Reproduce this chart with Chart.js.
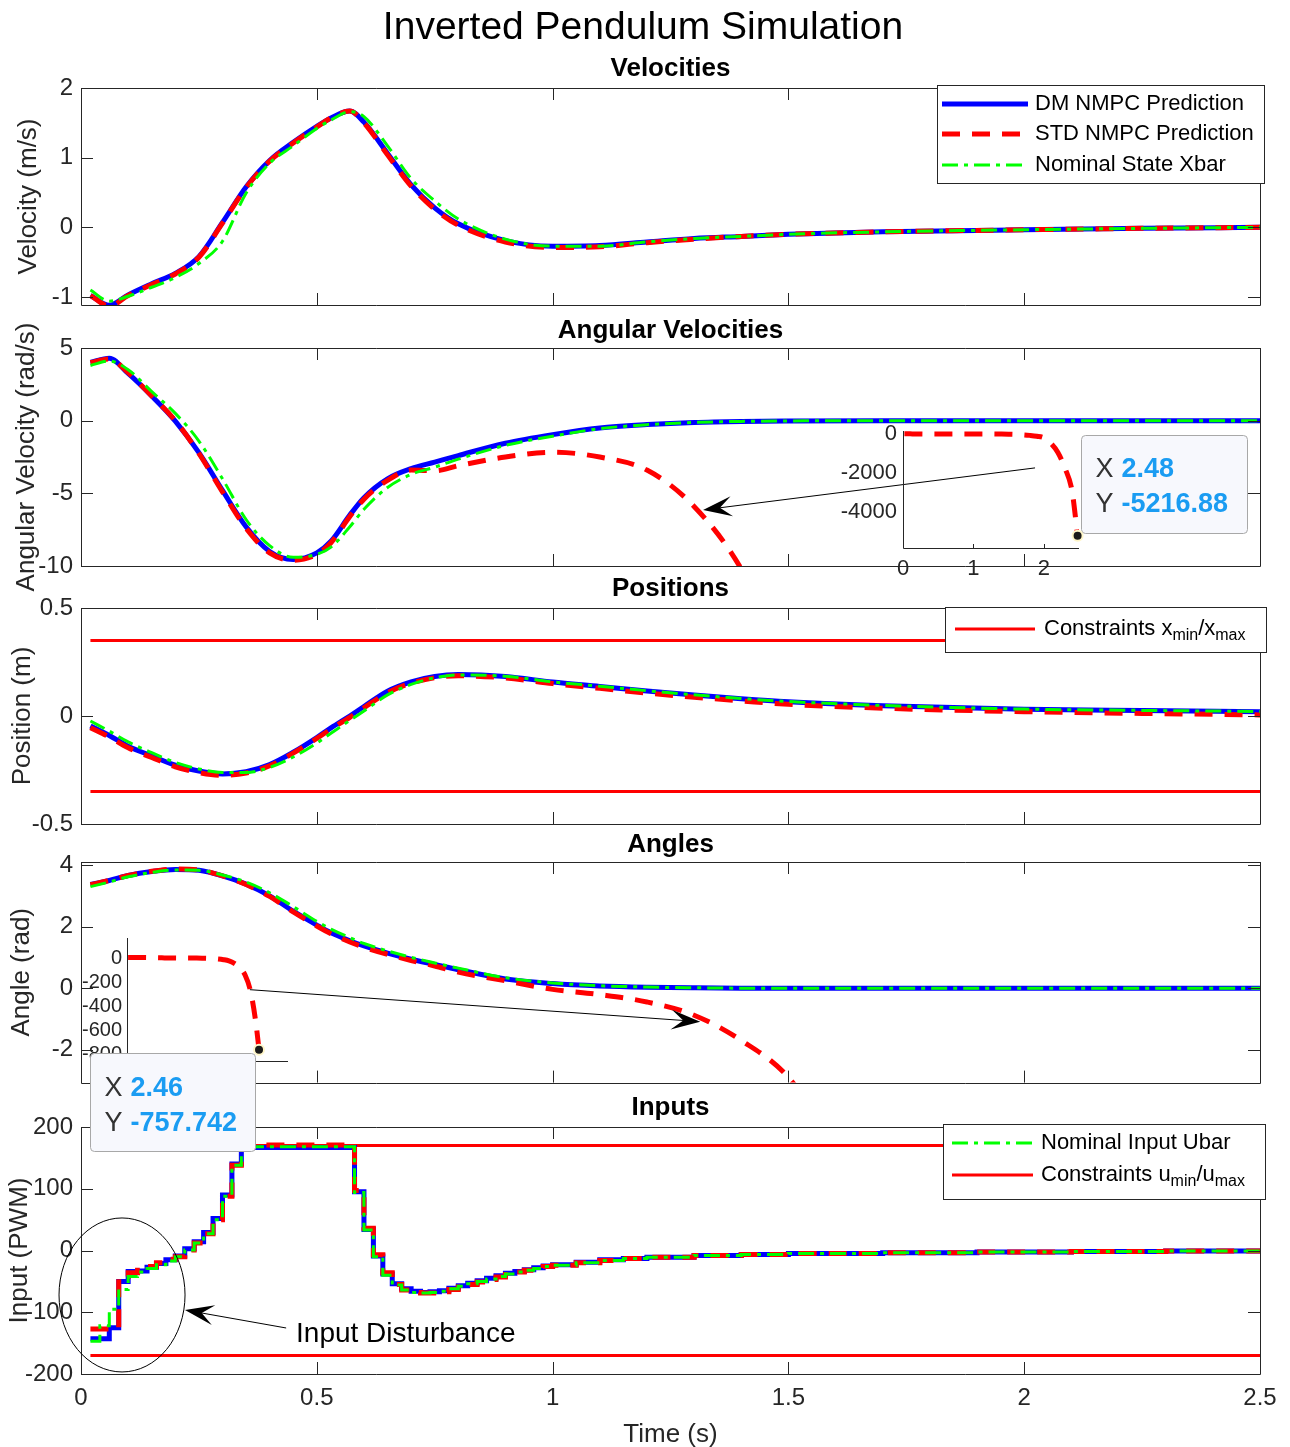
<!DOCTYPE html>
<html>
<head>
<meta charset="utf-8">
<title>Inverted Pendulum Simulation</title>
<script src="https://cdn.jsdelivr.net/npm/chart.js@4.4.1/dist/chart.umd.min.js"></script>
<style>
  html, body { margin: 0; padding: 0; background: #fff; }
  body { position: relative; width: 1290px; height: 1447px; overflow: hidden; }
  canvas { position: absolute; }
</style>
</head>
<body>
<script>
// ---- data ----
const T = [0.02, 0.06, 0.1, 0.15, 0.2, 0.25, 0.3, 0.35, 0.4, 0.45, 0.5, 0.53, 0.57, 0.6, 0.65, 0.7, 0.75, 0.8, 0.9, 1.0, 1.1, 1.2, 1.3, 1.4, 1.5, 1.7, 2.0, 2.25, 2.5];

const VEL_DM  = [-0.98, -1.12, -0.97, -0.81, -0.66, -0.42, 0.07, 0.58, 0.96, 1.22, 1.45, 1.57, 1.67, 1.51, 1.06, 0.61, 0.28, 0.05, -0.19, -0.27, -0.26, -0.21, -0.16, -0.13, -0.10, -0.065, -0.035, -0.015, 0.0];
const VEL_STD = [-0.98, -1.13, -0.98, -0.82, -0.67, -0.43, 0.06, 0.57, 0.95, 1.21, 1.44, 1.57, 1.67, 1.50, 1.04, 0.59, 0.26, 0.03, -0.21, -0.29, -0.28, -0.22, -0.17, -0.13, -0.10, -0.065, -0.035, -0.015, 0.0];
const VEL_NOM = [-0.90, -1.06, -0.99, -0.86, -0.72, -0.52, -0.20, 0.49, 0.92, 1.17, 1.42, 1.54, 1.66, 1.59, 1.17, 0.70, 0.38, 0.12, -0.17, -0.27, -0.27, -0.21, -0.16, -0.13, -0.10, -0.065, -0.035, -0.015, 0.0];

const OMEGA_DM  = [4.0, 4.3, 3.25, 1.7, -0.03, -2.2, -4.8, -7.3, -9.0, -9.55, -9.1, -8.3, -6.5, -5.3, -4.0, -3.3, -2.85, -2.4, -1.55, -0.96, -0.5, -0.27, -0.12, -0.05, -0.02, 0.0, 0.0, 0.0, 0.0];
const OMEGA_NOM = [3.8, 4.1, 3.5, 2.0, 0.5, -1.4, -4.0, -6.8, -8.6, -9.4, -9.2, -8.7, -7.3, -6.1, -4.6, -3.7, -3.2, -2.65, -1.7, -1.07, -0.55, -0.28, -0.12, -0.05, -0.02, 0.0, 0.0, 0.0, 0.0];
const T_OMEGA_STD = [0.02, 0.06, 0.1, 0.15, 0.2, 0.25, 0.3, 0.35, 0.4, 0.45, 0.5, 0.53, 0.57, 0.6, 0.65, 0.7, 0.75, 0.8, 0.9, 1.0, 1.1, 1.2, 1.3, 1.4, 1.5, 1.6, 1.7, 1.8, 1.9, 2.0, 2.1, 2.2, 2.3, 2.4, 2.48];
const OMEGA_STD = [4.0, 4.25, 3.3, 1.7, 0.0, -2.25, -4.9, -7.4, -9.1, -9.6, -9.2, -8.4, -6.6, -5.4, -4.1, -3.4, -3.45, -3.1, -2.5, -2.17, -2.5, -3.4, -5.9, -10.2, -17, -28, -45, -75, -120, -200, -480, -950, -1750, -2900, -5216.88];

const POS_DM  = [-0.046, -0.09, -0.14, -0.185, -0.228, -0.255, -0.268, -0.258, -0.225, -0.168, -0.10, -0.055, 0.0, 0.044, 0.115, 0.158, 0.183, 0.192, 0.183, 0.157, 0.137, 0.116, 0.097, 0.08, 0.066, 0.048, 0.031, 0.025, 0.02];
const POS_STD = [-0.054, -0.097, -0.147, -0.192, -0.235, -0.262, -0.275, -0.264, -0.23, -0.172, -0.104, -0.06, -0.006, 0.038, 0.108, 0.152, 0.177, 0.186, 0.176, 0.15, 0.128, 0.106, 0.087, 0.07, 0.054, 0.036, 0.02, 0.012, 0.005];
const POS_NOM = [-0.023, -0.07, -0.12, -0.17, -0.215, -0.245, -0.262, -0.262, -0.238, -0.19, -0.125, -0.08, -0.02, 0.023, 0.098, 0.146, 0.177, 0.19, 0.184, 0.158, 0.138, 0.117, 0.098, 0.081, 0.067, 0.049, 0.032, 0.026, 0.021];

const ANG_DM  = [3.37, 3.5, 3.66, 3.79, 3.86, 3.83, 3.65, 3.38, 3.0, 2.5, 2.05, 1.8, 1.54, 1.37, 1.14, 0.94, 0.77, 0.6, 0.3, 0.15, 0.07, 0.03, 0.01, 0.0, 0.0, 0.0, 0.0, 0.0, 0.0];
const ANG_NOM = [3.3, 3.45, 3.62, 3.76, 3.84, 3.83, 3.68, 3.45, 3.1, 2.65, 2.17, 1.92, 1.64, 1.45, 1.21, 1.0, 0.82, 0.65, 0.34, 0.17, 0.08, 0.035, 0.012, 0.0, 0.0, 0.0, 0.0, 0.0, 0.0];
const T_ANG_STD = [0.02, 0.06, 0.1, 0.15, 0.2, 0.25, 0.3, 0.35, 0.4, 0.45, 0.5, 0.53, 0.57, 0.6, 0.65, 0.7, 0.75, 0.8, 0.9, 1.0, 1.1, 1.2, 1.3, 1.4, 1.5, 1.6, 1.7, 1.8, 1.9, 2.0, 2.1, 2.2, 2.3, 2.4, 2.46];
const ANG_STD = [3.36, 3.5, 3.66, 3.8, 3.87, 3.84, 3.65, 3.37, 2.98, 2.48, 2.02, 1.77, 1.5, 1.33, 1.1, 0.9, 0.72, 0.52, 0.24, -0.04, -0.21, -0.45, -0.88, -1.7, -2.9, -5.2, -8, -14, -24, -45, -80, -140, -270, -530, -757.742];

const T_U = [0.02, 0.04, 0.06, 0.08, 0.10, 0.12, 0.14, 0.16, 0.18, 0.20, 0.22, 0.24, 0.26, 0.28, 0.30, 0.32, 0.34, 0.40, 0.46, 0.52, 0.58, 0.60, 0.62, 0.64, 0.66, 0.68, 0.70, 0.72, 0.74, 0.76, 0.78, 0.80, 0.82, 0.84, 0.86, 0.88, 0.90, 0.92, 0.94, 0.96, 0.98, 1.00, 1.05, 1.10, 1.15, 1.20, 1.30, 1.40, 1.50, 1.70, 1.90, 2.10, 2.30, 2.50];
const U_DM  = [-143, -143, -125, -50, -34, -33, -27, -21, -15, -9, 3, 14, 29, 52, 90, 140, 167, 167, 167, 167, 95, 34, -9, -38, -54, -62, -66, -68, -67, -65, -61, -57, -53, -49, -45, -41, -37, -34, -31, -28, -25, -23, -19, -15, -13, -11, -8, -6.5, -5, -3.5, -2.5, -1.5, -1, -0.5];
const U_STD = [-127, -127, -127, -42, -36, -32, -26, -20, -14, -10, 1, 12, 27, 50, 88, 138, 171, 171, 171, 171, 97, 36, -7, -36, -55, -64, -68, -69, -69, -67, -63, -59, -55, -51, -47, -43, -39, -35, -32, -29, -26, -24, -20, -16, -13, -11, -8, -6.5, -5, -3.5, -2.5, -1.5, -1, -0.5];
const U_NOM = [-147, -122, -95, -63, -42, -35, -29, -23, -17, -10, 1, 12, 27, 50, 88, 138, 168, 168, 168, 168, 94, 33, -10, -40, -56, -64, -68, -69, -68, -66, -62, -58, -54, -50, -46, -42, -38, -35, -32, -29, -26, -24, -20, -16, -13, -11, -8, -6.5, -5, -3.5, -2.5, -1.5, -1, -0.5];

const T_LIMIT = [0.02, 2.5];
const X_MAX = [0.35, 0.35];
const X_MIN = [-0.35, -0.35];
const U_MAX = [170, 170];
const U_MIN = [-170, -170];

const X_TICKS = [0, 0.5, 1, 1.5, 2, 2.5];
const VEL_TICKS = [-1, 0, 1, 2];
const OMEGA_TICKS = [-10, -5, 0, 5];
const POS_TICKS = [-0.5, 0, 0.5];
const ANG_TICKS = [-2, 0, 2, 4];
const U_TICKS = [-200, -100, 0, 100, 200];
const ZOOM1_X_TICKS = [0, 1, 2];
const ZOOM1_Y_TICKS = [-4000, -2000, 0];
const ZOOM2_Y_TICKS = [-800, -600, -400, -200, 0];

// ---- styling ----
const FONT = "'Liberation Sans', Arial, Helvetica, sans-serif";
const INK = '#262626';
const BLUE = '#0000ff', RED = '#ff0000', GREEN = '#00ff00';
const TITLE_SIZE = 26;
Chart.defaults.font.family = FONT;
Chart.defaults.color = INK;

const STYLE = {
  dm:  { borderColor: BLUE, borderWidth: 5 },
  std: { borderColor: RED, borderWidth: 5, borderDash: [18, 12] },
  nom: { borderColor: GREEN, borderWidth: 3, borderDash: [16, 6, 4, 6] },
  lim: { borderColor: RED, borderWidth: 3 }
};

function pts(ts, vs) {
  return ts.map((t, i) => ({ x: t, y: vs[i] }));
}

function line(kind, data, extra) {
  return Object.assign({
    data, pointRadius: 0, fill: false, clip: 0,
    cubicInterpolationMode: 'monotone', borderCapStyle: 'butt'
  }, STYLE[kind], extra || {});
}

function makeCanvas(left, top, w, h) {
  const c = document.createElement('canvas');
  c.width = w; c.height = h;
  c.style.left = left + 'px';
  c.style.top = top + 'px';
  document.body.appendChild(c);
  return c;
}

// nudge the layout padding so the plot area lands where the figure has it
function pinArea(chart, pad, want) {
  for (let k = 0; k < 2; k++) {
    const a = chart.chartArea;
    const dt = want.top - a.top, db = a.bottom - want.bottom;
    const dr = want.right == null ? 0 : a.right - want.right;
    if (Math.abs(dt) < 0.5 && Math.abs(db) < 0.5 && Math.abs(dr) < 0.5) break;
    pad.top += dt; pad.bottom += db; pad.right += dr;
    chart.update();
  }
}

// box + inward ticks on all four sides, like a MATLAB axes
const axesBox = {
  id: 'axesBox',
  afterDatasetsDraw(chart, args, o) {
    const { ctx, chartArea: a, scales: { x, y } } = chart;
    const L = o.tick;
    ctx.save();
    ctx.strokeStyle = INK;
    ctx.lineWidth = 1;
    ctx.beginPath();
    if (o.inset) {
      ctx.moveTo(a.left + 0.5, a.top);
      ctx.lineTo(a.left + 0.5, a.bottom + 0.5);
      ctx.lineTo(a.right, a.bottom + 0.5);
      x.ticks.forEach(t => {
        const px = Math.round(x.getPixelForValue(t.value)) + 0.5;
        ctx.moveTo(px, a.bottom);
        ctx.lineTo(px, a.bottom - L);
      });
    } else {
      x.ticks.forEach(t => {
        const px = Math.round(x.getPixelForValue(t.value)) + 0.5;
        ctx.moveTo(px, a.top); ctx.lineTo(px, a.top + L);
        ctx.moveTo(px, a.bottom); ctx.lineTo(px, a.bottom - L);
      });
      y.ticks.forEach(t => {
        const py = Math.round(y.getPixelForValue(t.value)) + 0.5;
        ctx.moveTo(a.left, py); ctx.lineTo(a.left + L, py);
        ctx.moveTo(a.right, py); ctx.lineTo(a.right - L, py);
      });
      ctx.rect(Math.round(a.left) + 0.5, Math.round(a.top) + 0.5, Math.round(a.width), Math.round(a.height));
    }
    ctx.stroke();
    ctx.restore();
  }
};

// figure title, above the first axes
const figTitle = {
  id: 'figTitle',
  afterDraw(chart, args, o) {
    if (!o.text) return;
    const { ctx } = chart;
    ctx.save();
    ctx.font = o.size + 'px ' + FONT;
    ctx.fillStyle = '#000';
    ctx.textAlign = 'center';
    ctx.textBaseline = 'middle';
    ctx.fillText(o.text, o.x, o.y);
    ctx.restore();
  }
};

function arrow(ctx, [x1, y1], [x2, y2]) {
  const ang = Math.atan2(y2 - y1, x2 - x1);
  const c = Math.cos(ang), s = Math.sin(ang);
  const L = 29, W = 10, N = 17;
  const bx = x2 - L * c, by = y2 - L * s;
  const nx = x2 - N * c, ny = y2 - N * s;
  ctx.beginPath();
  ctx.moveTo(x1, y1);
  ctx.lineTo(nx, ny);
  ctx.stroke();
  ctx.beginPath();
  ctx.moveTo(x2, y2);
  ctx.lineTo(bx - W * s, by + W * c);
  ctx.lineTo(nx, ny);
  ctx.lineTo(bx + W * s, by - W * c);
  ctx.closePath();
  ctx.fill();
}

// arrows, ellipse and free text placed in data units
const notes = {
  id: 'notes',
  afterDatasetsDraw(chart, args, o) {
    const { ctx, scales: { x, y } } = chart;
    const P = ([t, v]) => [x.getPixelForValue(t), y.getPixelForValue(v)];
    ctx.save();
    ctx.strokeStyle = '#000';
    ctx.fillStyle = '#000';
    ctx.lineWidth = 1;
    (o.arrows || []).forEach(a => arrow(ctx, P(a.from), P(a.to)));
    (o.ellipses || []).forEach(e => {
      const [cx, cy] = P(e.c);
      const rx = Math.abs(x.getPixelForValue(e.c[0] + e.rx) - cx);
      const ry = Math.abs(y.getPixelForValue(e.c[1] + e.ry) - cy);
      ctx.beginPath();
      ctx.ellipse(cx, cy, rx, ry, 0, 0, Math.PI * 2);
      ctx.stroke();
    });
    (o.texts || []).forEach(tx => {
      const [px, py] = P(tx.at);
      ctx.font = tx.size + 'px ' + FONT;
      ctx.textBaseline = 'middle';
      ctx.textAlign = 'left';
      ctx.fillText(tx.text, px, py);
    });
    ctx.restore();
  }
};

// framed legend with line samples taken from the datasets
const boxLegend = {
  id: 'boxLegend',
  afterDraw(chart, args, o) {
    const { ctx } = chart;
    const oy = o.pageTop;
    ctx.save();
    ctx.fillStyle = '#fff';
    ctx.fillRect(o.box.x, o.box.y - oy, o.box.w, o.box.h);
    ctx.strokeStyle = INK;
    ctx.lineWidth = 1;
    ctx.strokeRect(o.box.x + 0.5, o.box.y - oy + 0.5, o.box.w, o.box.h);
    o.items.forEach((it, i) => {
      const ds = chart.data.datasets[it.ds];
      const yy = o.rows[i] - oy;
      ctx.strokeStyle = ds.borderColor;
      ctx.lineWidth = ds.borderWidth;
      ctx.setLineDash(ds.borderDash || []);
      ctx.beginPath();
      ctx.moveTo(o.line[0], yy);
      ctx.lineTo(o.line[1], yy);
      ctx.stroke();
      ctx.setLineDash([]);
      ctx.fillStyle = '#000';
      ctx.textBaseline = 'middle';
      let xx = o.textX;
      it.text.forEach(seg => {
        const sub = seg[1] === 'sub';
        ctx.font = (sub ? 16 : 22) + 'px ' + FONT;
        ctx.fillText(seg[0], xx, yy + (sub ? 7 : 0));
        xx += ctx.measureText(seg[0]).width;
      });
    });
    ctx.restore();
  }
};

// MATLAB style data tip at the last point of the inset series
const dataTip = {
  id: 'dataTip',
  afterDraw(chart, args, o) {
    const { ctx, scales: { x, y } } = chart;
    const data = chart.data.datasets[0].data;
    const last = data[data.length - 1];
    const px = x.getPixelForValue(last.x), py = y.getPixelForValue(last.y);
    const bx = Math.round(px + o.dx) + 0.5, by = Math.round(py + o.dy) + 0.5;
    ctx.save();
    ctx.beginPath();
    ctx.roundRect(bx, by, o.w, o.h, 4);
    ctx.fillStyle = '#f7f8fd';
    ctx.fill();
    ctx.strokeStyle = '#a8a8a8';
    ctx.lineWidth = 1;
    ctx.stroke();
    const rows = [['X', String(last.x)], ['Y', String(last.y)]];
    ctx.textBaseline = 'middle';
    rows.forEach((r, i) => {
      const yy = by + o.rowY[i];
      ctx.font = '27px ' + FONT;
      ctx.fillStyle = '#333';
      ctx.fillText(r[0], bx + 14, yy);
      ctx.font = 'bold 27px ' + FONT;
      ctx.fillStyle = '#1a9cf2';
      ctx.fillText(r[1], bx + 40, yy);
    });
    ctx.beginPath();
    ctx.arc(px, py, 5, 0, Math.PI * 2);
    ctx.fillStyle = '#1a1a1a';
    ctx.fill();
    ctx.strokeStyle = '#fff6c8';
    ctx.lineWidth = 2;
    ctx.stroke();
    ctx.restore();
  }
};

function fixedTicks(list) {
  return s => { s.ticks = list.map(v => ({ value: v })); };
}

function mainChart(p) {
  const cv = makeCanvas(0, p.top, 1290, p.height);
  // Chart.js centres the title text slightly below the glyphs' visual centre
  const titleTop = p.titleY + 2 - TITLE_SIZE * 0.6;
  const xH = p.xLabels ? 76 : 0;
  const pad = { left: 0, right: 30, top: titleTop - p.top, bottom: p.top + p.height - p.areaBottom - xH };
  const chart = new Chart(cv, {
    type: 'line',
    data: { datasets: p.datasets },
    options: {
      responsive: false,
      animation: false,
      events: [],
      layout: { padding: pad },
      scales: {
        x: {
          type: 'linear', min: 0, max: 2.5,
          grid: { display: false, drawTicks: false },
          border: { display: false },
          afterBuildTicks: fixedTicks(X_TICKS),
          afterFit: s => { s.height = xH; },
          ticks: { display: !!p.xLabels, font: { size: 24 }, padding: 10, maxRotation: 0, autoSkip: false, callback: v => String(v) },
          title: { display: !!p.xLabels, text: 'Time (s)', font: { size: 26 }, padding: { top: 0, bottom: 0 } }
        },
        y: {
          min: p.yMin, max: p.yMax,
          grid: { display: false, drawTicks: false },
          border: { display: false },
          afterBuildTicks: fixedTicks(p.yTicks),
          afterFit: s => { s.width = 81; },
          ticks: { font: { size: 24 }, padding: 8, autoSkip: false, callback: v => String(v) },
          title: { display: true, text: p.yTitle, font: { size: 26 }, padding: { top: p.yTitlePad, bottom: 0 } }
        }
      },
      plugins: {
        legend: { display: false },
        tooltip: { enabled: false },
        title: {
          display: true, text: p.title, color: '#000', fullSize: false,
          font: { size: TITLE_SIZE, weight: 'bold' },
          padding: { top: 0, bottom: p.areaTop - titleTop - TITLE_SIZE * 1.2 }
        },
        figTitle: p.figTitle ? { text: p.figTitle, size: 39, x: 643, y: 28 - p.top } : {},
        axesBox: { tick: 12 },
        notes: p.notes || {},
        boxLegend: p.legend ? Object.assign({ pageTop: p.top }, p.legend) : false
      }
    },
    plugins: [axesBox, notes, boxLegend, figTitle]
  });
  pinArea(chart, pad, { top: p.areaTop - p.top, bottom: p.areaBottom - p.top, right: 1260 });
  return chart;
}

function insetChart(p) {
  const cv = makeCanvas(p.left, p.top, p.w, p.h);
  const pad = {
    left: 0,
    top: p.area.top - p.top,
    right: p.left + p.w - p.area.right,
    bottom: p.top + p.h - p.area.bottom - p.xHeight
  };
  const chart = new Chart(cv, {
    type: 'line',
    data: { datasets: [line('std', p.data)] },
    options: {
      responsive: false,
      animation: false,
      events: [],
      layout: { padding: pad },
      scales: {
        x: {
          type: 'linear', min: 0, max: p.xMax,
          grid: { display: false, drawTicks: false },
          border: { display: false },
          afterBuildTicks: fixedTicks(p.xTicks),
          afterFit: s => { s.height = p.xHeight; },
          ticks: { display: p.xHeight > 0, font: { size: 22 }, padding: 8, maxRotation: 0, autoSkip: false, callback: v => String(v) }
        },
        y: {
          min: p.yMin, max: p.yMax,
          grid: { display: false, drawTicks: false },
          border: { display: false },
          afterBuildTicks: fixedTicks(p.yTicks),
          afterFit: s => { s.width = p.area.left - p.left; },
          ticks: { font: { size: p.fontSize }, padding: p.tickPad, autoSkip: false, callback: v => String(v) }
        }
      },
      plugins: {
        legend: { display: false },
        tooltip: { enabled: false },
        title: { display: false },
        axesBox: { tick: 4, inset: true },
        dataTip: p.tip
      }
    },
    plugins: [axesBox, dataTip]
  });
  pinArea(chart, pad, {
    top: p.area.top - p.top, bottom: p.area.bottom - p.top, right: p.area.right - p.left
  });
  return chart;
}

// ---- the five stacked axes ----
mainChart({
  top: 0, height: 330, titleY: 67, areaTop: 88, areaBottom: 305,
  figTitle: 'Inverted Pendulum Simulation', title: 'Velocities',
  yMin: -1.115, yMax: 2, yTicks: VEL_TICKS, yTitle: 'Velocity (m/s)', yTitlePad: 13,
  datasets: [
    line('nom', pts(T, VEL_NOM)),
    line('std', pts(T, VEL_STD)),
    line('dm', pts(T, VEL_DM))
  ],
  legend: {
    box: { x: 937, y: 85, w: 327, h: 98 }, rows: [104, 134, 165], line: [942, 1028], textX: 1035,
    items: [
      { ds: 2, text: [['DM NMPC Prediction']] },
      { ds: 1, text: [['STD NMPC Prediction']] },
      { ds: 0, text: [['Nominal State Xbar']] }
    ]
  }
});

mainChart({
  top: 300, height: 300, titleY: 329, areaTop: 348, areaBottom: 566,
  title: 'Angular Velocities',
  yMin: -10, yMax: 5, yTicks: OMEGA_TICKS, yTitle: 'Angular Velocity (rad/s)', yTitlePad: 11,
  datasets: [
    line('nom', pts(T, OMEGA_NOM)),
    line('std', pts(T_OMEGA_STD, OMEGA_STD)),
    line('dm', pts(T, OMEGA_DM))
  ],
  notes: { arrows: [{ from: [2.023, -3.25], to: [1.319, -6.14] }] }
});

mainChart({
  top: 560, height: 300, titleY: 587, areaTop: 608, areaBottom: 824,
  title: 'Positions',
  yMin: -0.5, yMax: 0.5, yTicks: POS_TICKS, yTitle: 'Position (m)', yTitlePad: 7,
  datasets: [
    line('nom', pts(T, POS_NOM)),
    line('std', pts(T, POS_STD)),
    line('dm', pts(T, POS_DM)),
    line('lim', pts(T_LIMIT, X_MAX)),
    line('lim', pts(T_LIMIT, X_MIN))
  ],
  legend: {
    box: { x: 945, y: 607, w: 321, h: 45 }, rows: [629], line: [955, 1035], textX: 1044,
    items: [{ ds: 3, text: [['Constraints x'], ['min', 'sub'], ['/x'], ['max', 'sub']] }]
  }
});

mainChart({
  top: 815, height: 290, titleY: 843, areaTop: 862, areaBottom: 1083,
  title: 'Angles',
  yMin: -3.07, yMax: 4.1, yTicks: ANG_TICKS, yTitle: 'Angle (rad)', yTitlePad: 6,
  datasets: [
    line('nom', pts(T, ANG_NOM)),
    line('std', pts(T_ANG_STD, ANG_STD)),
    line('dm', pts(T, ANG_DM))
  ],
  notes: { arrows: [{ from: [0.358, -0.05], to: [1.313, -1.09] }] }
});

mainChart({
  top: 1080, height: 372, titleY: 1106, areaTop: 1127, areaBottom: 1374, xLabels: true,
  title: 'Inputs',
  yMin: -200, yMax: 200, yTicks: U_TICKS, yTitle: 'Input (PWM)', yTitlePad: 4.5,
  datasets: [
    line('nom', pts(T_U, U_NOM), { stepped: true }),
    line('std', pts(T_U, U_STD), { stepped: true }),
    line('dm', pts(T_U, U_DM), { stepped: true }),
    line('lim', pts(T_LIMIT, U_MAX)),
    line('lim', pts(T_LIMIT, U_MIN))
  ],
  legend: {
    box: { x: 943, y: 1124, w: 322, h: 75 }, rows: [1143, 1175], line: [952, 1033], textX: 1041,
    items: [
      { ds: 0, text: [['Nominal Input Ubar']] },
      { ds: 3, text: [['Constraints u'], ['min', 'sub'], ['/u'], ['max', 'sub']] }
    ]
  },
  notes: {
    arrows: [{ from: [0.435, -125.5], to: [0.2205, -96.4] }],
    ellipses: [{ c: [0.087, -72], rx: 0.1336, ry: 124.7 }],
    texts: [{ at: [0.456, -135], text: 'Input Disturbance', size: 28 }]
  }
});

// ---- zoomed insets of the diverging STD NMPC prediction ----
insetChart({
  left: 830, top: 400, w: 430, h: 192,
  area: { left: 903, top: 431, right: 1079, bottom: 548 },
  xMax: 2.5, xTicks: ZOOM1_X_TICKS, xHeight: 30,
  yMin: -5850, yMax: 150, yTicks: ZOOM1_Y_TICKS, fontSize: 22, tickPad: 6,
  data: pts(T_OMEGA_STD, OMEGA_STD),
  tip: { dx: 3, dy: -101, w: 166, h: 98, rowY: [34, 69] }
});

insetChart({
  left: 60, top: 905, w: 245, h: 255,
  area: { left: 127, top: 938, right: 288, bottom: 1061 },
  xMax: 3, xTicks: [], xHeight: 0,
  yMin: -850, yMax: 165, yTicks: ZOOM2_Y_TICKS, fontSize: 20, tickPad: 5,
  data: pts(T_ANG_STD, ANG_STD),
  tip: { dx: -169, dy: 3, w: 165, h: 98, rowY: [35, 70] }
});
</script>
</body>
</html>
